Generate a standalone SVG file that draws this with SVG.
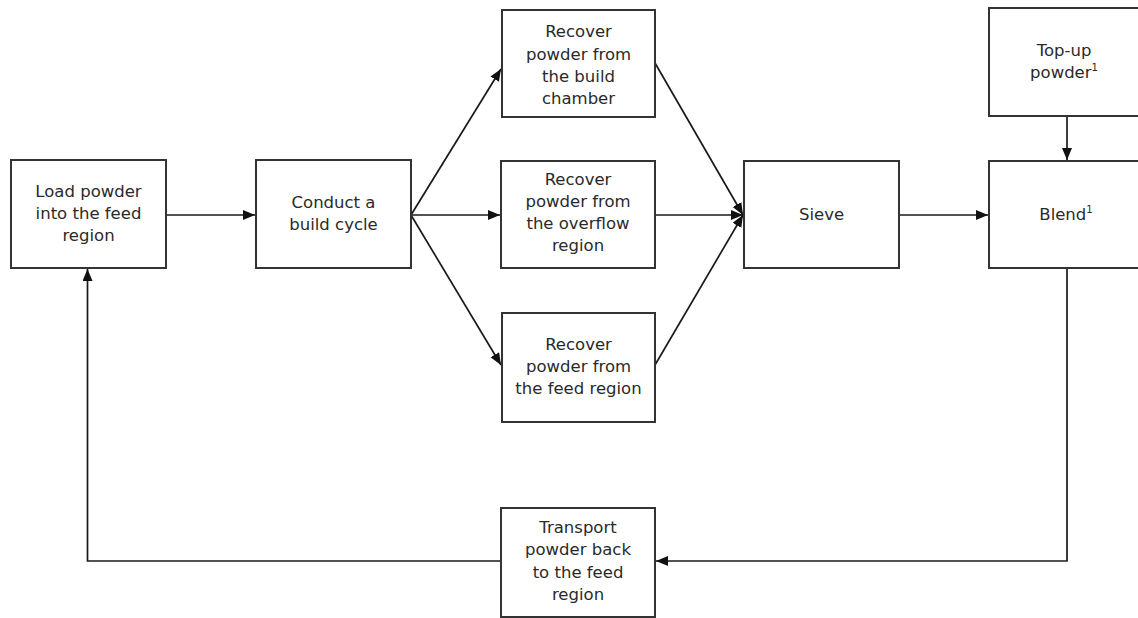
<svg xmlns="http://www.w3.org/2000/svg" width="1138" height="618" viewBox="0 0 1138 618">
<style>
.box{fill:#fff;stroke:#333;stroke-width:2}
.t{font-family:"DejaVu Sans","Verdana",sans-serif;font-size:16.5px;fill:#2a2a2a;text-anchor:middle}
.sup{font-size:10px}
.c{fill:none;stroke:#1a1a1a;stroke-width:1.7}
</style>
<defs>
<marker id="ah" markerWidth="13" markerHeight="11" refX="12" refY="5" orient="auto" markerUnits="userSpaceOnUse">
<path d="M0,0 L12,5 L0,10 z" fill="#111"/>
</marker>
</defs>
<rect width="1138" height="618" fill="#fff"/>
<g id="connectors">
<line class="c" x1="166" y1="215" x2="255" y2="215" marker-end="url(#ah)"/>
<line class="c" x1="411" y1="215" x2="501" y2="69" marker-end="url(#ah)"/>
<line class="c" x1="411" y1="215" x2="500" y2="215" marker-end="url(#ah)"/>
<line class="c" x1="411" y1="215" x2="501" y2="365" marker-end="url(#ah)"/>
<line class="c" x1="655" y1="63" x2="743" y2="215" marker-end="url(#ah)"/>
<line class="c" x1="655" y1="215" x2="743" y2="215" marker-end="url(#ah)"/>
<line class="c" x1="655" y1="365" x2="743" y2="215" marker-end="url(#ah)"/>
<line class="c" x1="899" y1="215" x2="988" y2="215" marker-end="url(#ah)"/>
<line class="c" x1="1067" y1="116" x2="1067" y2="160" marker-end="url(#ah)"/>
<polyline class="c" points="1067,268 1067,561 656,561" marker-end="url(#ah)"/>
<polyline class="c" points="501,561 87.5,561 87.5,269" marker-end="url(#ah)"/>
</g>
<g id="load">
<rect class="box" x="11" y="160" width="155" height="108"/>
<text class="t" x="88.5" y="197">Load powder</text>
<text class="t" x="88.5" y="219">into the feed</text>
<text class="t" x="88.5" y="241">region</text>
</g>
<g id="conduct">
<rect class="box" x="256" y="160" width="155" height="108"/>
<text class="t" x="333.5" y="208">Conduct a</text>
<text class="t" x="333.5" y="230">build cycle</text>
</g>
<g id="recover-build">
<rect class="box" x="502" y="10" width="153" height="107"/>
<text class="t" x="578.5" y="37">Recover</text>
<text class="t" x="578.5" y="60">powder from</text>
<text class="t" x="578.5" y="82">the build</text>
<text class="t" x="578.5" y="104">chamber</text>
</g>
<g id="recover-overflow">
<rect class="box" x="501" y="161" width="154" height="107"/>
<text class="t" x="578" y="185">Recover</text>
<text class="t" x="578" y="207">powder from</text>
<text class="t" x="578" y="229">the overflow</text>
<text class="t" x="578" y="251">region</text>
</g>
<g id="recover-feed">
<rect class="box" x="502" y="313" width="153" height="109"/>
<text class="t" x="578.5" y="350">Recover</text>
<text class="t" x="578.5" y="372">powder from</text>
<text class="t" x="578.5" y="394">the feed region</text>
</g>
<g id="sieve">
<rect class="box" x="744" y="161" width="155" height="107"/>
<text class="t" x="821.5" y="220">Sieve</text>
</g>
<g id="topup">
<rect class="box" x="989" y="8" width="155" height="108"/>
<text class="t" x="1064" y="56">Top-up</text>
<text class="t" x="1064" y="78">powder<tspan class="sup" dy="-7">1</tspan></text>
</g>
<g id="blend">
<rect class="box" x="989" y="161" width="155" height="107"/>
<text class="t" x="1066" y="220">Blend<tspan class="sup" dy="-7">1</tspan></text>
</g>
<g id="transport">
<rect class="box" x="501" y="508" width="154" height="109"/>
<text class="t" x="578" y="533">Transport</text>
<text class="t" x="578" y="555">powder back</text>
<text class="t" x="578" y="578">to the feed</text>
<text class="t" x="578" y="600">region</text>
</g>
</svg>
